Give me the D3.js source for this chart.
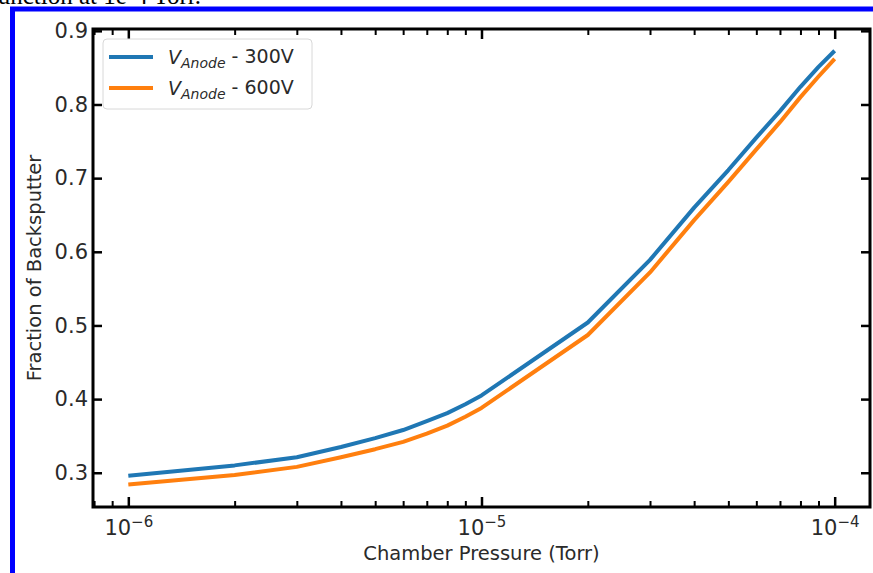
<!DOCTYPE html>
<html>
<head>
<meta charset="utf-8">
<script src="https://cdn.jsdelivr.net/npm/d3@7"></script>
<style>
  body { margin: 0; background: #fff; }
  svg { display: block; }
</style>
</head>
<body>
<svg width="873" height="573"></svg>
<script>
  // pressures (Torr) and backsputter fractions
  const pressure = [1e-6, 2e-6, 3e-6, 4e-6, 5e-6, 6e-6, 7e-6, 8e-6, 9e-6,
                    1e-5, 2e-5, 3e-5, 4e-5, 5e-5, 6e-5, 7e-5, 8e-5, 9e-5, 1e-4];
  const frac300 = [0.296, 0.310, 0.321, 0.335, 0.347, 0.358, 0.370, 0.381, 0.393,
                   0.405, 0.504, 0.589, 0.660, 0.711, 0.755, 0.791, 0.824, 0.851, 0.873];
  const frac600 = [0.284, 0.297, 0.308, 0.321, 0.332, 0.342, 0.353, 0.364, 0.376,
                   0.388, 0.487, 0.572, 0.643, 0.695, 0.739, 0.776, 0.810, 0.838, 0.862];
  const seriesNames = ["300V", "600V"];
  const colors = ["#1f77b4", "#ff7f0e"];
  const xMajor = [1e-6, 1e-5, 1e-4];
  const xExp = ["\u22126", "\u22125", "\u22124"];
  const yTicks = [0.3, 0.4, 0.5, 0.6, 0.7, 0.8, 0.9];

  const svg = d3.select("svg"),
      width = +svg.attr("width"),
      height = +svg.attr("height");

  // bits of the page the chart was cut from
  svg.append("text")
      .attr("x", 201).attr("y", 4)
      .attr("text-anchor", "end")
      .style("font-family", "'Liberation Serif', serif")
      .style("font-size", "25px")
      .text("backsputter function at 1e-4 Torr.");
  svg.append("path")
      .attr("d", `M12.5,${height} V9 H${width}`)
      .attr("fill", "none")
      .attr("stroke", "#0000ff")
      .attr("stroke-width", 5);

  const pLeft = 93, pRight = 870, pTop = 29, pBottom = 507;

  const x = d3.scaleLog()
      .domain([Math.pow(10, -6.1), Math.pow(10, -3.9)])
      .range([pLeft, pRight]);
  const y = d3.scaleLinear()
      .domain([0.2535, 0.9025])
      .range([pBottom, pTop]);

  const xMinor = [];
  [1e-6, 1e-5].forEach(d => { for (let k = 2; k <= 9; k++) xMinor.push(d * k); });
  xMinor.push(9e-7, 8e-7, 2e-4);
  const xMinorIn = xMinor.filter(v => x(v) > pLeft + 1 && x(v) < pRight - 1);

  const tickFont = "'DejaVu Sans', sans-serif";
  const textCol = "#2a2a2a";

  function styleAxis(g, w) {
    g.select(".domain").remove();
    g.selectAll(".tick line").attr("stroke", "#000").attr("stroke-width", w);
  }

  // bottom axis
  const gx = svg.append("g")
      .attr("transform", `translate(0,${pBottom})`)
      .call(d3.axisBottom(x).tickValues(xMajor).tickSize(-10).tickPadding(9).tickFormat(() => ""))
      .call(g => styleAxis(g, 2.5));
  gx.selectAll(".tick text").each(function(d, i) {
    const t = d3.select(this)
        .attr("dy", "0.9em")
        .style("font-family", tickFont)
        .style("font-size", "21px")
        .attr("fill", textCol);
    t.append("tspan").text("10");
    t.append("tspan").attr("dy", "-0.55em").style("font-size", "15px").text(xExp[i]);
  });
  svg.append("g")
      .attr("transform", `translate(0,${pBottom})`)
      .call(d3.axisBottom(x).tickValues(xMinorIn).tickSize(-6).tickFormat(() => ""))
      .call(g => styleAxis(g, 2));

  // top axis (mirrored ticks)
  svg.append("g")
      .attr("transform", `translate(0,${pTop})`)
      .call(d3.axisTop(x).tickValues(xMajor).tickSize(-10).tickFormat(() => ""))
      .call(g => styleAxis(g, 2.5));
  svg.append("g")
      .attr("transform", `translate(0,${pTop})`)
      .call(d3.axisTop(x).tickValues(xMinorIn).tickSize(-6).tickFormat(() => ""))
      .call(g => styleAxis(g, 2));

  // left axis
  svg.append("g")
      .attr("transform", `translate(${pLeft},0)`)
      .call(d3.axisLeft(y).tickValues(yTicks).tickSize(-9).tickPadding(5).tickFormat(d3.format(".1f")))
      .call(g => styleAxis(g, 2.5))
      .call(g => g.selectAll(".tick text")
          .style("font-family", tickFont)
          .style("font-size", "21px")
          .attr("fill", textCol));

  // right axis
  svg.append("g")
      .attr("transform", `translate(${pRight},0)`)
      .call(d3.axisRight(y).tickValues(yTicks).tickSize(-9).tickFormat(() => ""))
      .call(g => styleAxis(g, 2.5));

  // frame
  svg.append("rect")
      .attr("x", pLeft).attr("y", pTop)
      .attr("width", pRight - pLeft).attr("height", pBottom - pTop)
      .attr("fill", "none")
      .attr("stroke", "#000")
      .attr("stroke-width", 3);

  // lines
  const line = d3.line()
      .x(d => x(d[0]))
      .y(d => y(d[1]));

  [frac300, frac600].forEach((vals, i) => {
    svg.append("path")
        .datum(pressure.map((p, j) => [p, vals[j]]))
        .attr("fill", "none")
        .attr("stroke", colors[i])
        .attr("stroke-width", 4)
        .attr("stroke-linejoin", "round")
        .attr("d", line);
  });

  // axis labels
  svg.append("text")
      .attr("x", (pLeft + pRight) / 2).attr("y", 560)
      .attr("text-anchor", "middle")
      .style("font-family", tickFont)
      .style("font-size", "19.5px")
      .attr("fill", textCol)
      .text("Chamber Pressure (Torr)");
  svg.append("text")
      .attr("transform", `translate(41,${(pTop + pBottom) / 2}) rotate(-90)`)
      .attr("text-anchor", "middle")
      .style("font-family", tickFont)
      .style("font-size", "19.5px")
      .attr("fill", textCol)
      .text("Fraction of Backsputter");

  // legend
  const lg = svg.append("g").attr("transform", "translate(103,39)");
  lg.append("rect")
      .attr("width", 209).attr("height", 70)
      .attr("rx", 4)
      .attr("fill", "#fff")
      .attr("fill-opacity", 0.8)
      .attr("stroke", "#d8d8d8");
  seriesNames.forEach((name, i) => {
    const row = lg.append("g").attr("transform", `translate(0,${18 + i * 31})`);
    row.append("line")
        .attr("x1", 6).attr("x2", 50)
        .attr("stroke", colors[i])
        .attr("stroke-width", 4);
    const t = row.append("text")
        .attr("x", 65).attr("dy", "0.35em")
        .style("font-family", tickFont)
        .style("font-size", "19px")
        .attr("fill", textCol);
    t.append("tspan").style("font-style", "italic").text("V");
    t.append("tspan").style("font-style", "italic").style("font-size", "14px")
        .attr("dy", "0.3em").text("Anode");
    t.append("tspan").attr("dy", "-0.25em").text(" - " + name);
  });
</script>
</body>
</html>
